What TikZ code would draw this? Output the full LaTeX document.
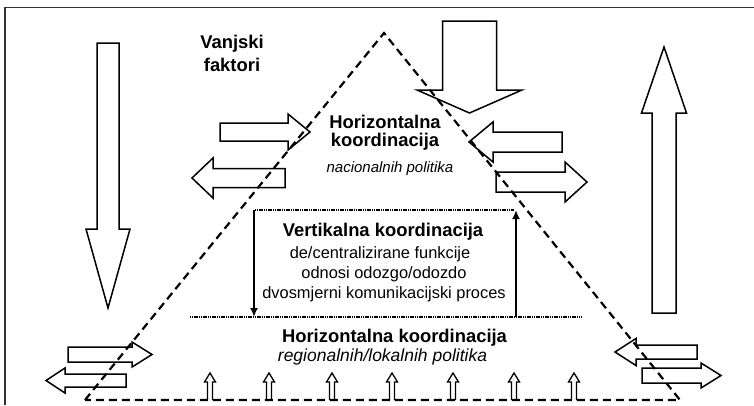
\documentclass[tikz,border=0pt]{standalone}
\usepackage{fontspec}
\setmainfont{Liberation Sans}
\usetikzlibrary{positioning,arrows.meta}

\tikzset{
  hollow/.style={draw=black,line width=1.5pt,line join=miter},
  frontier/.style={line width=2.2pt,dash pattern=on 8pt off 5pt},
  level/.style={line width=1.6pt,dash pattern=on 1.2pt off 0.6pt},
  title/.style={font=\fontsize{18.4}{18}\selectfont\bfseries,anchor=base,inner sep=0pt},
  plain/.style={font=\fontsize{16.4}{16}\selectfont,anchor=base,inner sep=0pt},
  sub/.style={font=\fontsize{15}{15}\selectfont\itshape,anchor=base,inner sep=0pt},
}

\begin{document}
\begin{tikzpicture}[x=1pt,y=-1pt]
\useasboundingbox (0,0) rectangle (754,405);

% frame
\draw[line width=1.5pt,draw=black!80] (5,405) -- (5,7.5) -- (754,7.5);

% big vertical arrows: x/tail/base/tip/shaft/head
\foreach \x/\a/\b/\c/\s/\h in {108/43/229/308/11/22,469.5/21/90/113/27/52.5,664/313/113/47/12/22.5}{
	\draw[hollow] (\x-\s,\a) -- (\x-\s,\b) -- (\x-\h,\b) -- (\x,\c) -- (\x+\h,\b) -- (\x+\s,\b) -- (\x+\s,\a) -- cycle;
}

% horizontal arrows: y/tail/base/tip/shaft/head
\foreach \y/\a/\b/\c/\s/\h in {132/220/288/310/9/18,178/285/213/192/9.5/20,142/562/493/469/10/20,182/496/565/587/10/20,
	354.5/68/132/152/7.5/12.5,380.5/126/65/46/6.5/12.5,352/697/636/615/7/13.5,375.5/642/701/721/7.5/12.5}{
	\draw[hollow] (\a,\y-\s) -- (\b,\y-\s) -- (\b,\y-\h) -- (\c,\y) -- (\b,\y+\h) -- (\b,\y+\s) -- (\a,\y+\s) -- cycle;
}

% small arrows on the base
\foreach \x in {210,269,332,392,453,514,574}{
	\draw[hollow,line width=1.3pt] (\x-2.5,400) -- (\x-2.5,382) -- (\x-5.5,382) -- (\x,373) -- (\x+5.5,382) -- (\x+2.5,382) -- (\x+2.5,400);
}

% triangle
\coordinate (apex) at (384,33);
\coordinate (left) at (85,400);
\coordinate (right) at (680,400);
\draw[frontier] (left) -- (apex) -- (right) -- cycle;

% inner box
\coordinate (tl) at (254,210);
\coordinate (tr) at (516,210);
\coordinate (bl) at (254,317);
\coordinate (br) at (516,317);
\coordinate (lvl1) at (255,210);
\coordinate (lvl2) at (514,210);
\coordinate (lvl3) at (190,317);
\coordinate (lvl4) at (582,317);
\draw[level] (lvl1) -- (lvl2);
\draw[level] (lvl3) -- (lvl4);
\draw[-{Latex[length=9pt,width=8pt]},line width=1.8pt] (tl) -- (bl);
\draw[-{Latex[length=9pt,width=8pt]},line width=1.8pt] (br) -- (tr);

% texts
\node[title] (vanjski) at (232,48) {Vanjski};
\node[title] (faktori) at (232,71) {faktori};

\node[title] (hnat) at (385,128) {Horizontalna};
\node[title] (knat) at (385,146) {koordinacija};
\node[sub] (nat) at (390,172) {nacionalnih politika};

\node[title] (vert) at (383,236) {Vertikalna koordinacija};
\node[plain] (vert1) at (380,258) {de/centralizirane funkcije};
\node[plain] (vert2) at (384,278) {odnosi odozgo/odozdo};
\node[plain] (vert3) at (384,298) {dvosmjerni komunikacijski proces};

\node[title] (hreg) at (394.5,342) {Horizontalna koordinacija};
\node[sub,font=\fontsize{17.5}{17}\selectfont\itshape] (reg) at (382.5,361) {regionalnih/lokalnih politika};
\end{tikzpicture}
\end{document}
